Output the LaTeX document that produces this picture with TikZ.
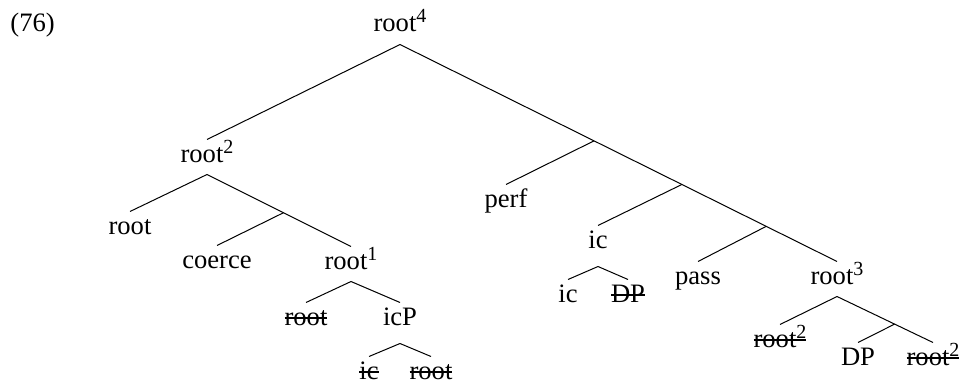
\documentclass[tikz,border=0pt]{standalone}
\usepackage{fontspec}
\setmainfont{Liberation Serif}
\usetikzlibrary{calc}
\newcommand{\struck}[1]{\setbox0=\hbox{#1}\rlap{\rule[.22em]{\wd0}{.075em}}\box0}
\newcommand{\sups}[1]{\raisebox{4.5pt}{\fontsize{10}{12}\selectfont #1}}

\begin{document}
\begin{tikzpicture}[x=.5pt,y=-.5pt,line width=.5pt,
  font=\fontsize{13.3}{16}\selectfont,
  lab/.style={inner sep=0pt,anchor=base,text height=11pt,text depth=6pt},
  deep/.style={text depth=9pt}]
 \useasboundingbox (0,0) rectangle (962,385);
 \node[inner sep=0pt,anchor=base west] (ex) at (10,32) {(76)};
 % labels
 \node[lab] (r4) at (400,32) {root\sups{4}};
 \node[lab] (r2) at (207,162) {root\sups{2}};
 \node[lab] (rt) at (130,234) {root};
 \node[lab] (co) at (217,268) {coerce};
 \node[lab] (r1) at (351,269) {root\sups{1}};
 \node[lab] (rs) at (306,325) {\struck{root}};
 \node[lab,deep] (icp) at (400,325) {icP};
 \node[lab] (ics) at (369,379) {\struck{ic}};
 \node[lab] (rs2) at (431,379) {\struck{root}};
 \node[lab] (pf) at (506,207) {perf};
 \node[lab,deep] (ic) at (598,248) {ic};
 \node[lab] (icl) at (568,302) {ic};
 \node[lab] (dps) at (628,302) {\struck{DP}};
 \node[lab] (ps) at (698,284) {pass};
 \node[lab] (r3) at (837,284) {root\sups{3}};
 \node[lab] (r2a) at (780,347) {\struck{root\sups{2}}};
 \node[lab] (dp) at (858,365) {DP};
 \node[lab] (r2b) at (933,365) {\struck{root\sups{2}}};
 % branching points
 \coordinate (j1) at ($(r4.south)!.444!(r3.north)$);
 \coordinate (j2) at ($(r4.south)!.645!(r3.north)$);
 \coordinate (j3) at ($(r4.south)!.838!(r3.north)$);
 \coordinate (k1) at ($(r2.south)!.531!(r1.north)$);
 \coordinate (m1) at ($(r3.south)!.6!(r2b.north)$);
 % branches
 \draw (r4.south) -- (r2.north);
 \draw (r4.south) -- (j1) -- (j2) -- (j3) -- (r3.north);
 \draw (j1) -- (pf.north);
 \draw (j2) -- (ic.north);
 \draw (j3) -- (ps.north);
 \draw (r2.south) -- (rt.north);
 \draw (r2.south) -- (k1) -- (r1.north);
 \draw (k1) -- (co.north);
 \draw (r1.south) -- (rs.north);
 \draw (r1.south) -- (icp.north);
 \draw (icp.south) -- (ics.north);
 \draw (icp.south) -- (rs2.north);
 \draw (ic.south) -- (icl.north);
 \draw (ic.south) -- (dps.north);
 \draw (r3.south) -- (r2a.north);
 \draw (r3.south) -- (m1) -- (r2b.north);
 \draw (m1) -- (dp.north);
\end{tikzpicture}
\end{document}
